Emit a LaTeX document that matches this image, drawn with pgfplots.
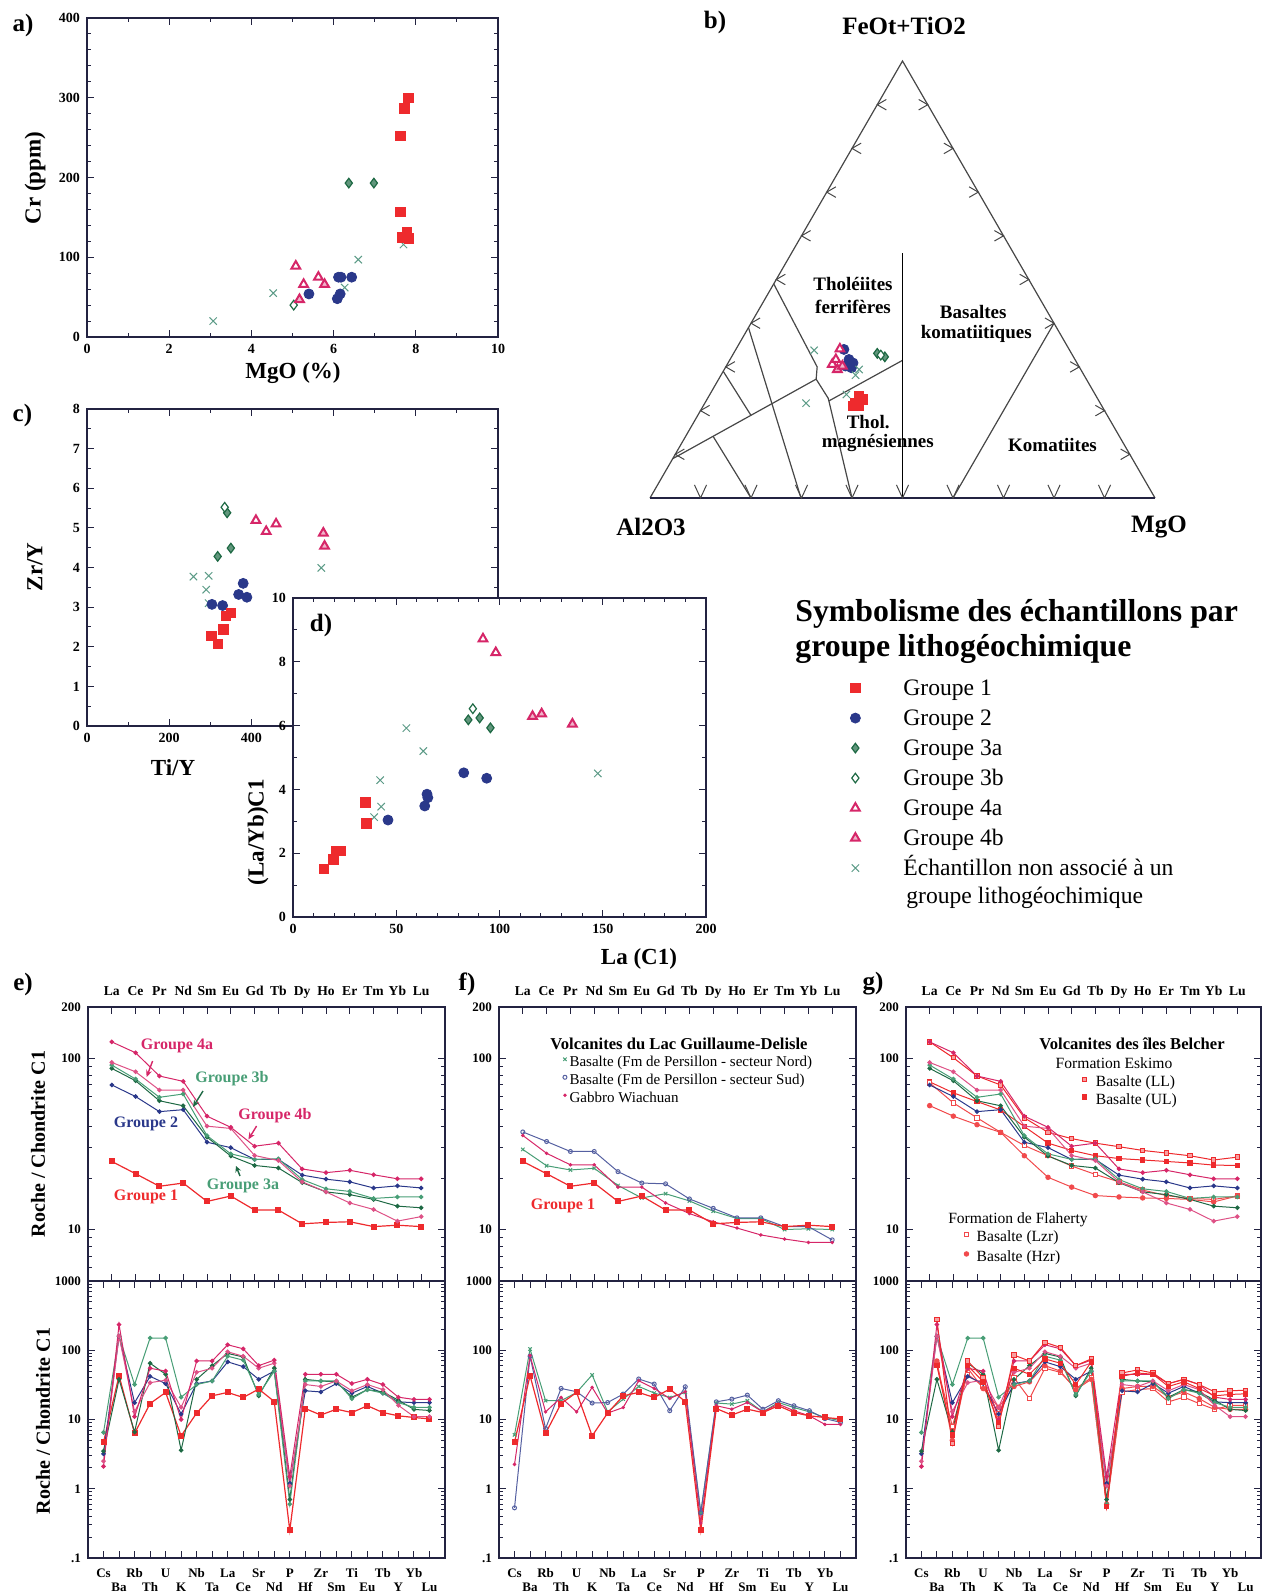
\documentclass[border=0pt]{standalone}
\usepackage{fontspec}
\setmainfont{Liberation Serif}
\usepackage{pgfplots}
\usepackage{pgfplotstable}
\pgfplotsset{compat=1.18}
\usetikzlibrary{arrows.meta}

\definecolor{cRed}{RGB}{238,42,45}
\definecolor{cBlue}{RGB}{42,56,138}
\definecolor{cGreenD}{RGB}{30,105,68}
\definecolor{cGreenL}{RGB}{72,158,118}
\definecolor{cPink}{RGB}{214,38,104}
\definecolor{cX}{RGB}{92,155,135}
\definecolor{cFrame}{RGB}{35,35,65}

\newcommand{\fsz}[1]{\fontsize{#1pt}{#1pt}\selectfont}

\pgfplotstableread{
x G1 G2 G3a G3b G4a G4b Nord Sud Gab LL UL Lzr Hzr
0 25 70 87.5 91.5 125 94.8 29.4 37.2 35.5 125 73 72 53
1 21.2 59.9 74.1 75.8 108 83.6 23.6 32.7 27.9 101 63 55 46
2 17.9 48.9 56.6 59.3 79 65.4 22.3 28.6 23.9 79 56 45 41
3 18.7 50.2 52.9 62 73.5 65.4 22.8 28.6 23.9 70 50 37 37
4 14.6 32.4 34.7 35.4 46 40.2 18.1 21.8 17.7 45 40 31 27
5 15.7 30.1 26.9 27.7 39.6 39 15.3 18.7 17.7 37 32 27 20.2
6 13 25.7 23.7 25.7 30.7 27.1 16.2 18.5 14.3 34 29 23.5 17.7
7 13 25.7 22.9 25.9 32 25.3 14.7 15.1 12.4 32 27 21 15.8
8 10.8 20.8 18.8 19.6 22.6 19 12.8 13.3 11.1 30.5 26 19 15.5
9 11 19.7 16.6 17.3 21.5 16.6 11.6 11.7 10.2 29 25.5 17 15.3
10 11.1 19 16 16.7 22.2 14.3 11.6 11.7 9.3 28 25 15.8 15.2
11 10.4 17.5 15 15.2 20.9 13.1 10 10.4 8.8 27 24.5 15.2 15
12 10.6 18 13.7 15.5 19.8 11.2 10.1 10.4 8.4 25.5 23.8 15 14.5
13 10.4 17.5 13.4 15.5 19.8 11.9 10 8.7 8.4 26.5 23.7 15.7 15.7
}\ree

\pgfplotstableread{
x G1 G2 G3a G3b G4a G4b Nord Sud Gab LL UL Lzr Hzr
0 4.7 3.2 3.5 6.5 2.1 2.5 6 0.53 2.25 nan nan nan nan
1 43 160 38 160 235 160 104 82 84 280 60 62 70
2 6.3 17.5 6.6 32 11 13 18.7 7.4 12.9 4.5 6 8 5
3 17 42 65 150 55 34 18.7 28.1 20.8 70 60 45 55
4 24.6 33 45 150 50 37 24.6 25.2 12.9 40 35 30 28
5 5.8 12 3.6 21 10 15 44 17.3 29.1 8 9 12 15
6 12.4 33 38 32 70 48 12.9 17.6 12.4 85 55 40 30
7 22 36 60 36 70 55 19.7 23.3 14.9 70 45 20 35
8 24.6 68 90 82 120 95 30 38.5 36.3 130 75 55 60
9 20.8 58 80 72 105 82 24.1 32.5 28.1 110 65 48 50
10 27.5 38 22 23 60 55 20.8 13.4 20.1 60 32 28 27
11 18.2 50 55 50 72 65 24.6 29.7 25.2 75 68 40 38
12 0.25 1.2 0.7 0.6 1.5 1.1 0.45 0.45 0.32 0.55 0.55 0.55 0.6
13 14.4 26 38 36 45 32 17.3 18 15.8 47 42 25 28
14 11.6 25 36 36 45 30 16.7 19.7 14.1 52 47 27 30
15 14.1 33 35 36 45 36 18.7 22.5 17.6 47 45 28 30
16 12.6 24 21 20 33 26 12.9 14.1 12.9 33 30 18 21
17 15.8 30 27 27 38 32 17.6 18.7 16.7 38 35 21 25
18 12.6 24 25 24 32 27 14.9 15.8 13.4 32 28 17 20
19 11.3 18 19 17.5 21 16 12.9 13.4 11.3 25 22 14 15
20 10.7 17.5 14 15 19.5 11 10.7 10.3 8.5 26 23 16 14
21 10.2 17.5 13.5 15 19.5 11 9.6 9.1 8.5 26.5 23.5 16 14
}\spd

\pgfplotsset{
  mybase/.style={scale only axis, anchor=south west,
    axis line style={draw=cFrame, line width=0.6pt},
    tick style={draw=cFrame, line width=0.5pt},
    tick align=inside, major tick length=3.5pt, minor tick length=2pt,
    /pgf/number format/assume math mode=true,
    ticklabel style={font=\bfseries\fontsize{7}{8}\selectfont, text=black}},
  reetop/.style={mybase, width=178.5pt, height=137pt,
    ymin=5, ymax=200, xmin=-1, xmax=14,
    xtick={0,...,13},
    xticklabels={La,Ce,Pr,Nd,Sm,Eu,Gd,Tb,Dy,Ho,Er,Tm,Yb,Lu},
    xticklabel pos=upper,
    ytick={10,100,200}, yticklabels={10,100,200},
    minor ytick={6,7,8,9,20,30,40,50,60,70,80,90},
    yticklabel style={font=\bfseries\fontsize{6.5}{7.5}\selectfont},
    xticklabel style={font=\bfseries\fontsize{6.8}{7.5}\selectfont, text height=4.8pt, text depth=1.5pt, yshift=0.6pt}},
  spider/.style={mybase, width=178.5pt, height=138.5pt,
    ymin=0.1, ymax=1000, xmin=-1, xmax=22,
    xtick={0,...,21},
    xticklabels={{\strut Cs},{\strut\\Ba},{\strut Rb},{\strut\\Th},{\strut U},{\strut\\K},{\strut Nb},{\strut\\Ta},{\strut La},{\strut\\Ce},{\strut Sr},{\strut\\Nd},{\strut P},{\strut\\Hf},{\strut Zr},{\strut\\Sm},{\strut Ti},{\strut\\Eu},{\strut Tb},{\strut\\Y},{\strut Yb},{\strut\\Lu}},
    ytick={0.1,1,10,100,1000}, yticklabels={.1,1,10,100,1000},
    minor ytick={0.2,0.3,0.4,0.5,0.6,0.7,0.8,0.9,2,3,4,5,6,7,8,9,20,30,40,50,60,70,80,90,200,300,400,500,600,700,800,900},
    yticklabel style={font=\bfseries\fontsize{6.5}{7.5}\selectfont},
    xticklabel style={font=\bfseries\fontsize{6.5}{7.1}\selectfont, align=center, anchor=north, yshift=-1.2pt}},
  g1/.style={only marks, mark=square*, mark size=2.4pt, color=cRed},
  g2/.style={only marks, mark=*, mark size=2.5pt, color=cBlue},
  g3a/.style={only marks, mark=diamond*, mark size=2.4pt, color=cGreenD, mark options={fill=cGreenD!70, line width=0.6pt}},
  g3b/.style={only marks, mark=diamond*, mark size=2.4pt, color=cGreenD, mark options={fill=white, line width=0.6pt}},
  g4a/.style={only marks, mark=triangle*, mark size=2.5pt, color=cPink, mark options={fill=white, line width=1pt}},
  g4b/.style={only marks, mark=triangle*, mark size=2.5pt, color=cPink, mark options={fill=cPink!35, line width=1pt}},
  gx/.style={only marks, mark=x, mark size=2.6pt, color=cX, mark options={line width=0.5pt}},
  sG1/.style={color=cRed, line width=0.6pt, mark=square*, mark size=1.2pt},
  sG2/.style={color=cBlue, line width=0.5pt, mark=*, mark size=0.9pt},
  sG3a/.style={color=cGreenD, line width=0.5pt, mark=*, mark size=0.9pt},
  sG3b/.style={color=cGreenL, line width=0.5pt, mark=*, mark size=0.9pt},
  sG4a/.style={color=cPink, line width=0.5pt, mark=*, mark size=0.9pt},
  sG4b/.style={color=cPink!80!white, line width=0.5pt, mark=*, mark size=0.9pt},
  sNord/.style={color=cGreenL, line width=0.5pt, mark=x, mark size=1.2pt},
  sSud/.style={color=cBlue!80!white, line width=0.5pt, mark=o, mark size=1pt},
  sGab/.style={color=cPink, line width=0.5pt, mark=*, mark size=0.6pt},
  sLL/.style={color=cRed, line width=0.5pt, mark=square*, mark size=1.1pt, mark options={fill=cRed!45}},
  sUL/.style={color=cRed, line width=0.5pt, mark=square*, mark size=1.1pt},
  sLzr/.style={color=cRed!85!white, line width=0.5pt, mark=square*, mark size=1.1pt, mark options={fill=white}},
  sHzr/.style={color=cRed!85!white, line width=0.5pt, mark=*, mark size=1.1pt},
  tern/.style={forget plot, draw=black!72, line width=0.6pt, mark=none},
  dotlegA/.style={legend image code/.code={\draw[##1] plot coordinates {(0pt,0.8pt)};}},
  dotlegB/.style={legend image code/.code={\draw[##1] plot coordinates {(0pt,1.8pt)};}},
}

\begin{document}
\begin{tikzpicture}
\path[use as bounding box] (0,0) rectangle (631.5pt,-797.5pt);

% ---------------- panel a
\begin{axis}[mybase, at={(43.5pt,-168.5pt)}, width=205.5pt, height=159.5pt,
  xmin=0,xmax=10,ymin=0,ymax=400, xtick={0,2,...,10}, ytick={0,100,...,400},
  minor x tick num=1, minor y tick num=4]
\addplot[gx] coordinates {(3.07,20)(4.53,55)(6.6,97)(7.70,116)(6.27,62)};
\addplot[g3b] coordinates {(5.03,40)};
\addplot[g3a] coordinates {(6.37,193)(6.98,193)};
\addplot[g4a] coordinates {(5.08,89)(5.63,75)(5.27,66)};
\addplot[g4b] coordinates {(5.78,66)(5.17,47)};
\addplot[g2] coordinates {(6.12,75)(6.18,75)(6.44,75)(5.40,54)(6.09,48)(6.16,54)};
\addplot[g1] coordinates {(7.82,300)(7.72,287)(7.62,252)(7.62,157)(7.68,125)(7.78,132)(7.83,124)};
\end{axis}
\node[font=\bfseries\fsz{12.5}] at (11.5pt,-12.5pt) {a)};
\node[font=\bfseries\fsz{11.5}, rotate=90] at (17.5pt,-89pt) {Cr (ppm)};
\node[font=\bfseries\fsz{11.5}] at (146.5pt,-186.5pt) {MgO (\%)};

% ---------------- panel c
\begin{axis}[mybase, at={(43.5pt,-363pt)}, width=205.5pt, height=158.5pt,
  xmin=0,xmax=1000,ymin=0,ymax=8, xtick={0,200,...,1000}, ytick={0,1,...,8},
  minor x tick num=1, minor y tick num=1]
\addplot[gx] coordinates {(259,3.77)(296,3.79)(290,3.44)(570,3.99)(296,3.1)};
\addplot[g3a] coordinates {(318,4.28)(350,4.49)(341,5.38)};
\addplot[g3b] coordinates {(335,5.52)};
\addplot[g4a] coordinates {(411,5.19)(436,4.91)(460,5.10)};
\addplot[g4b] coordinates {(575,4.87)(578,4.54)};
\addplot[g2] coordinates {(304,3.07)(330,3.04)(380,3.6)(369,3.32)(389,3.25)};
\addplot[g1] coordinates {(302,2.27)(318,2.07)(332,2.44)(338,2.78)(350,2.85)};
\end{axis}
\node[font=\bfseries\fsz{12.5}] at (11.2pt,-207.5pt) {c)};
\node[font=\bfseries\fsz{11.5}, rotate=90] at (17.5pt,-283.5pt) {Zr/Y};
\node[font=\bfseries\fsz{11.5}] at (86.5pt,-384pt) {Ti/Y};

% ---------------- panel d
\begin{axis}[mybase, at={(146.5pt,-458.5pt)}, width=206.5pt, height=159.5pt,
  xmin=0,xmax=200,ymin=0,ymax=10, xtick={0,50,...,200}, ytick={0,2,...,10},
  minor x tick num=4, minor y tick num=1, axis background/.style={fill=white}]
\addplot[gx] coordinates {(39.3,3.13)(42.7,3.46)(42.2,4.29)(54.9,5.92)(63.1,5.20)(147.6,4.50)};
\addplot[g3a] coordinates {(84.9,6.18)(90.4,6.24)(95.6,5.93)};
\addplot[g3b] coordinates {(87.1,6.53)};
\addplot[g4a] coordinates {(92,8.72)(98.2,8.29)};
\addplot[g4b] coordinates {(116,6.29)(120.4,6.37)(135.3,6.05)};
\addplot[g2] coordinates {(46,3.04)(63.8,3.48)(64.9,3.85)(65.3,3.74)(82.7,4.52)(93.8,4.35)};
\addplot[g1] coordinates {(15,1.51)(19.5,1.8)(21,2.07)(23,2.07)(35,3.6)(35.5,2.93)};
\end{axis}
\node[font=\bfseries\fsz{12.5}] at (160.5pt,-312.5pt) {d)};
\node[font=\bfseries\fsz{11.5}, rotate=90] at (129pt,-416pt) {(La/Yb)C1};
\node[font=\bfseries\fsz{11.5}] at (319.5pt,-479.5pt) {La (C1)};

% ---------------- panel b (ternary)
\begin{axis}[at={(325pt,-249pt)}, anchor=south west, scale only axis,
  width=252.5pt, height=218.5pt, xmin=0,xmax=1,ymin=0,ymax=1, hide axis, clip=false,
  unbounded coords=jump, legend cell align=left, dotlegA,
  legend style={at={(axis description cs:0.396,-0.41)}, anchor=north west,
    draw=none, fill=none, inner sep=0pt, font=\fsz{11.8},
    nodes={inner sep=0.5pt, text height=8.5pt, text depth=2.6pt},
    row sep=2.9pt, /tikz/every odd column/.append style={column sep=21pt}}]
\addplot[tern] coordinates {(0,0)(0.5,1)(1,0)};
\addplot[tern, draw=cFrame] coordinates {(0,0)(1,0)};
\addplot[tern] coordinates {(0.245,0.49)(0.331,0.30)(0.329,0.272)(0.353,0.228)(0.4,0)};
\addplot[tern] coordinates {(0.045,0.09)(0.329,0.272)};
\addplot[tern] coordinates {(0.354,0.222)(0.5,0.315)};
\addplot[tern, draw=black] coordinates {(0.5,0.56)(0.5,0)};
\addplot[tern] coordinates {(0.195,0.39)(0.299,0)};
\addplot[tern] coordinates {(0.145,0.29)(0.2,0.189)};
\addplot[tern] coordinates {(0.125,0.141)(0.2,0)};
\addplot[tern] coordinates {(0.6,0)(0.8,0.4)};
\addplot[tern, line width=0.5pt] coordinates {
(0.068,0.112)(0.05,0.1)(0.068,0.088)(nan,nan)
(0.118,0.212)(0.1,0.2)(0.118,0.188)(nan,nan)
(0.168,0.312)(0.15,0.3)(0.168,0.288)(nan,nan)
(0.218,0.412)(0.2,0.4)(0.218,0.388)(nan,nan)
(0.268,0.512)(0.25,0.5)(0.268,0.488)(nan,nan)
(0.318,0.612)(0.3,0.6)(0.318,0.588)(nan,nan)
(0.368,0.712)(0.35,0.7)(0.368,0.688)(nan,nan)
(0.418,0.812)(0.4,0.8)(0.418,0.788)(nan,nan)
(0.468,0.912)(0.45,0.9)(0.468,0.888)(nan,nan)
(0.932,0.112)(0.95,0.1)(0.932,0.088)(nan,nan)
(0.882,0.212)(0.9,0.2)(0.882,0.188)(nan,nan)
(0.832,0.312)(0.85,0.3)(0.832,0.288)(nan,nan)
(0.782,0.412)(0.8,0.4)(0.782,0.388)(nan,nan)
(0.732,0.512)(0.75,0.5)(0.732,0.488)(nan,nan)
(0.682,0.612)(0.7,0.6)(0.682,0.588)(nan,nan)
(0.632,0.712)(0.65,0.7)(0.632,0.688)(nan,nan)
(0.582,0.812)(0.6,0.8)(0.582,0.788)(nan,nan)
(0.532,0.912)(0.55,0.9)(0.532,0.888)(nan,nan)
(0.088,0.03)(0.1,0)(0.112,0.03)(nan,nan)
(0.188,0.03)(0.2,0)(0.212,0.03)(nan,nan)
(0.288,0.03)(0.3,0)(0.312,0.03)(nan,nan)
(0.388,0.03)(0.4,0)(0.412,0.03)(nan,nan)
(0.488,0.03)(0.5,0)(0.512,0.03)(nan,nan)
(0.588,0.03)(0.6,0)(0.612,0.03)(nan,nan)
(0.688,0.03)(0.7,0)(0.712,0.03)(nan,nan)
(0.788,0.03)(0.8,0)(0.812,0.03)(nan,nan)
(0.888,0.03)(0.9,0)(0.912,0.03)
};
\addplot[g1] coordinates {(0.414,0.234)(0.407,0.218)(0.402,0.211)(0.420,0.226)(0.414,0.211)};
\addplot[g2] coordinates {(0.394,0.317)(0.387,0.302)(0.402,0.309)(0.384,0.340)(0.399,0.298)};
\addplot[g3a] coordinates {(0.450,0.331)(0.465,0.323)};
\addplot[g3b] coordinates {(0.457,0.327)};
\addplot[g4a] coordinates {(0.361,0.306)(0.376,0.341)(0.368,0.317)};
\addplot[g4b] coordinates {(0.371,0.294)(0.381,0.302)};
\addplot[gx] coordinates {(0.325,0.338)(0.309,0.217)(0.389,0.237)(0.414,0.294)(0.407,0.281)};
\legend{Groupe 1,Groupe 2,Groupe 3a,Groupe 3b,Groupe 4a,Groupe 4b,Échantillon non associé à un}
\node[font=\bfseries\fsz{9.5}] at (axis cs:0.402,0.49) {Tholéiites};
\node[font=\bfseries\fsz{9.5}] at (axis cs:0.402,0.437) {ferrifères};
\node[font=\bfseries\fsz{9.5}] at (axis cs:0.64,0.426) {Basaltes};
\node[font=\bfseries\fsz{9.5}] at (axis cs:0.646,0.375) {komatiitiques};
\node[font=\bfseries\fsz{9.5}] at (axis cs:0.432,0.174) {Thol.};
\node[font=\bfseries\fsz{9.5}] at (axis cs:0.451,0.125) {magnésiennes};
\node[font=\bfseries\fsz{9.5}] at (axis cs:0.797,0.121) {Komatiites};
\end{axis}
\node[font=\bfseries\fsz{12.5}] at (357.5pt,-11pt) {b)};
\node[font=\bfseries\fsz{12.5}] at (452pt,-13pt) {FeOt+TiO2};
\node[font=\bfseries\fsz{12.5}] at (325.5pt,-263.5pt) {Al2O3};
\node[font=\bfseries\fsz{12.5}] at (579.5pt,-263.5pt) {MgO};

\node[font=\bfseries\fsz{15.9}, anchor=base west, inner sep=0pt] at (397.5pt,-310.5pt) {Symbolisme des échantillons par};
\node[font=\bfseries\fsz{15.9}, anchor=base west, inner sep=0pt] at (397.5pt,-328pt) {groupe lithogéochimique};
\node[font=\fsz{11.8}, anchor=base west, inner sep=0pt] at (453pt,-451.6pt) {groupe lithogéochimique};

% ---------------- panel e
\begin{semilogyaxis}[reetop, at={(44pt,-640.5pt)}]
\addplot[sG1] table[x=x,y=G1]{\ree};
\addplot[sG2] table[x=x,y=G2]{\ree};
\addplot[sG3a] table[x=x,y=G3a]{\ree};
\addplot[sG3b] table[x=x,y=G3b]{\ree};
\addplot[sG4b] table[x=x,y=G4b]{\ree};
\addplot[sG4a] table[x=x,y=G4a]{\ree};
\end{semilogyaxis}
\begin{semilogyaxis}[spider, at={(44pt,-779pt)}]
\addplot[sG1] table[x=x,y=G1]{\spd};
\addplot[sG2] table[x=x,y=G2]{\spd};
\addplot[sG3a] table[x=x,y=G3a]{\spd};
\addplot[sG3b] table[x=x,y=G3b]{\spd};
\addplot[sG4b] table[x=x,y=G4b]{\spd};
\addplot[sG4a] table[x=x,y=G4a]{\spd};
\end{semilogyaxis}
\node[font=\bfseries\fsz{12.5}] at (11.5pt,-492pt) {e)};
\node[font=\bfseries\fsz{10}, rotate=90] at (19pt,-572pt) {Roche / Chondrite C1};
\node[font=\bfseries\fsz{10}, rotate=90] at (21.5pt,-710.5pt) {Roche / Chondrite C1};
\node[font=\bfseries\fsz{8}, text=cPink] at (88.5pt,-523pt) {Groupe 4a};
\node[font=\bfseries\fsz{8}, text=cGreenL] at (116pt,-539.5pt) {Groupe 3b};
\node[font=\bfseries\fsz{8}, text=cBlue] at (73pt,-562pt) {Groupe 2};
\node[font=\bfseries\fsz{8}, text=cPink] at (137.5pt,-558pt) {Groupe 4b};
\node[font=\bfseries\fsz{8}, text=cGreenL] at (121.5pt,-593pt) {Groupe 3a};
\node[font=\bfseries\fsz{8}, text=cRed] at (73pt,-598.5pt) {Groupe 1};
\draw[-{Stealth[length=3.5pt,width=3pt]}, cPink, line width=0.7pt] (76.3pt,-530.5pt) -- (73.3pt,-538.5pt);
\draw[-{Stealth[length=3.5pt,width=3pt]}, cGreenD, line width=0.7pt] (101.5pt,-545.5pt) -- (96.5pt,-553.5pt);
\draw[-{Stealth[length=3.5pt,width=3pt]}, cPink, line width=0.7pt] (128.3pt,-563pt) -- (124.2pt,-569.7pt);
\draw[-{Stealth[length=3pt,width=3pt]}, cGreenD, line width=0.7pt] (120pt,-588pt) -- (118pt,-583pt);

% ---------------- panel f
\begin{semilogyaxis}[reetop, at={(249.5pt,-640.5pt)}, legend cell align=left, dotlegB,
  legend style={at={(axis description cs:0.178,0.826)}, anchor=north west,
    draw=none, fill=none, inner sep=0pt, font=\fsz{7.5},
    nodes={inner sep=0.3pt, text height=5.5pt, text depth=1.7pt},
    row sep=1.2pt, /tikz/every odd column/.append style={column sep=1pt}}]
\addplot[sNord] table[x=x,y=Nord]{\ree};
\addplot[sSud] table[x=x,y=Sud]{\ree};
\addplot[sGab] table[x=x,y=Gab]{\ree};
\addplot[sG1, forget plot] table[x=x,y=G1]{\ree};
\legend{Basalte (Fm de Persillon - secteur Nord),Basalte (Fm de Persillon - secteur Sud),Gabbro Wiachuan}
\end{semilogyaxis}
\begin{semilogyaxis}[spider, at={(249.5pt,-779pt)}]
\addplot[sNord] table[x=x,y=Nord]{\spd};
\addplot[sSud] table[x=x,y=Sud]{\spd};
\addplot[sGab] table[x=x,y=Gab]{\spd};
\addplot[sG1] table[x=x,y=G1]{\spd};
\end{semilogyaxis}
\node[font=\bfseries\fsz{12.5}] at (233.5pt,-492pt) {f)};
\node[font=\bfseries\fsz{8.3}] at (339.5pt,-522pt) {Volcanites du Lac Guillaume-Delisle};
\node[font=\bfseries\fsz{8}, text=cRed] at (281.5pt,-603pt) {Groupe 1};

% ---------------- panel g
\begin{semilogyaxis}[reetop, at={(453pt,-640.5pt)}, width=177.5pt, legend cell align=left, dotlegB,
  legend style={at={(axis description cs:0.496,0.753)}, anchor=north west,
    draw=none, fill=none, inner sep=0pt, font=\fsz{7.8},
    nodes={inner sep=0.3pt, text height=5.6pt, text depth=1.8pt},
    row sep=0.7pt, /tikz/every odd column/.append style={column sep=4.2pt}}]
\addplot[sLL] table[x=x,y=LL]{\ree};
\addplot[sUL] table[x=x,y=UL]{\ree};
\addplot[sLzr, forget plot] table[x=x,y=Lzr]{\ree};
\addplot[sHzr, forget plot] table[x=x,y=Hzr]{\ree};
\addplot[sG2, forget plot] table[x=x,y=G2]{\ree};
\addplot[sG3a, forget plot] table[x=x,y=G3a]{\ree};
\addplot[sG3b, forget plot] table[x=x,y=G3b]{\ree};
\addplot[sG4b, forget plot] table[x=x,y=G4b]{\ree};
\addplot[sG4a, forget plot] table[x=x,y=G4a]{\ree};
\legend{Basalte (LL),Basalte (UL)}
\end{semilogyaxis}
\begin{semilogyaxis}[spider, at={(453pt,-779pt)}, width=177.5pt, legend cell align=left, dotlegB,
  legend style={at={(axis description cs:0.163,1.185)}, anchor=north west,
    draw=none, fill=none, inner sep=0pt, font=\fsz{7.8},
    nodes={inner sep=0.3pt, text height=5.6pt, text depth=1.8pt},
    row sep=1.7pt, /tikz/every odd column/.append style={column sep=3.7pt}}]
\addplot[sLzr] table[x=x,y=Lzr]{\spd};
\addplot[sHzr] table[x=x,y=Hzr]{\spd};
\addplot[sG2, forget plot] table[x=x,y=G2]{\spd};
\addplot[sG3a, forget plot] table[x=x,y=G3a]{\spd};
\addplot[sG3b, forget plot] table[x=x,y=G3b]{\spd};
\addplot[sG4b, forget plot] table[x=x,y=G4b]{\spd};
\addplot[sG4a, forget plot] table[x=x,y=G4a]{\spd};
\addplot[sLL, forget plot] table[x=x,y=LL]{\spd};
\addplot[sUL, forget plot] table[x=x,y=UL]{\spd};
\legend{Basalte (Lzr),Basalte (Hzr)}
\end{semilogyaxis}
\node[font=\bfseries\fsz{12.5}] at (436.5pt,-492pt) {g)};
\node[font=\bfseries\fsz{8.3}] at (566pt,-522pt) {Volcanites des îles Belcher};
\node[font=\fsz{7.8}] at (557pt,-531.5pt) {Formation Eskimo};
\node[font=\fsz{7.8}] at (509pt,-610pt) {Formation de Flaherty};
\end{tikzpicture}
\end{document}
